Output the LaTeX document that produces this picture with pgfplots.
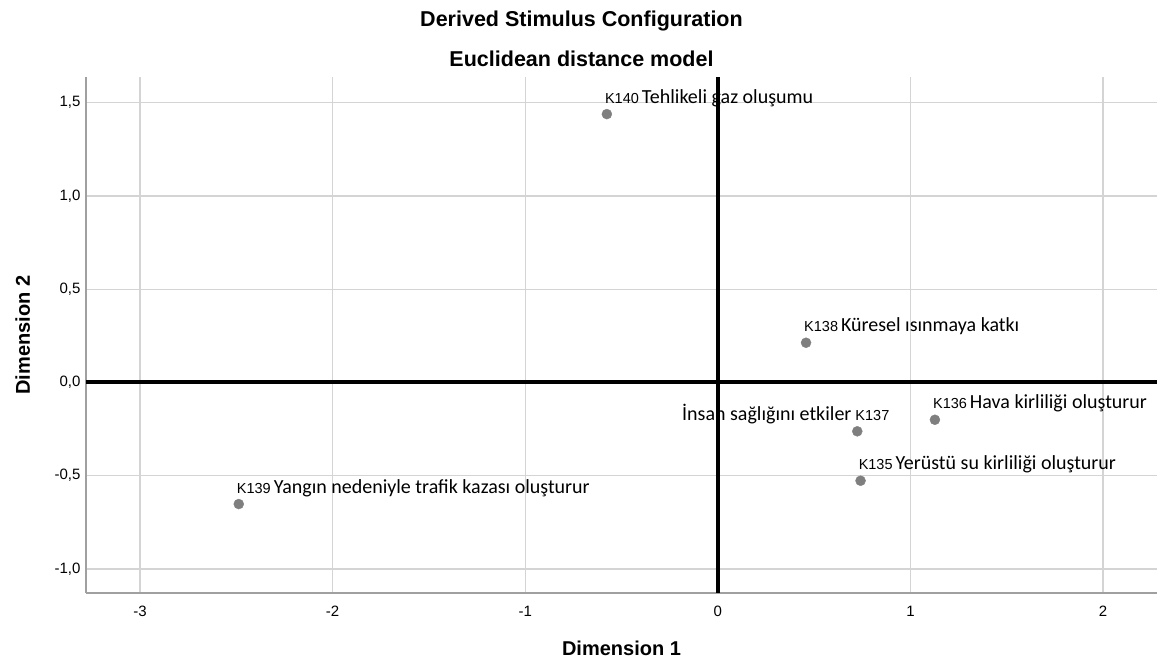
\documentclass[border=0pt]{standalone}
\usepackage{pgfplots}
\pgfplotsset{compat=1.18}
\usepackage{fontspec}
\setmainfont{Liberation Sans}
\newfontfamily\cf{Carlito}
\usetikzlibrary{calc}
\newcommand\kf{\fontsize{14.5}{16}\selectfont}
\newcommand\df{\cf\fontsize{20}{24}\selectfont}
\definecolor{gridc}{HTML}{D4D4D4}
\definecolor{axc}{HTML}{A0A0A0}
\definecolor{dotc}{HTML}{7F7F7F}
\begin{document}
\begin{tikzpicture}
\begin{axis}[name=ax, scale only axis, width=1071pt, height=516pt,
  xmin=-3.28, xmax=2.28, ymin=-1.129, ymax=1.638,
  xtick={-3,-2,-1,0,1,2}, ytick={-1,-0.5,0,0.5,1,1.5},
  axis lines*=left,
  axis line style={-, draw=axc, line width=1.6pt},
  grid=major, major grid style={draw=gridc, line width=1.3pt},
  major tick length=0pt,
  /pgf/number format/assume math mode=true,
  tick label style={font=\fontsize{15}{18}\selectfont},
  y tick label style={xshift=-2pt, /pgf/number format/fixed, /pgf/number format/fixed zerofill, /pgf/number format/precision=1, /pgf/number format/use comma},
  x tick label style={anchor=north, yshift=-9pt, text height=11pt, text depth=0pt},
  xlabel={Dimension 1},
  ylabel={Dimension 2},
  label style={font=\bfseries\fontsize{20}{24}\selectfont},
  xlabel style={at={(axis description cs:0.5,0)}, anchor=base, yshift=-63pt},
  ylabel style={at={($(axis description cs:0,0.5)+(-56pt,0)$)}, anchor=base},
  clip=false,
  every node near coord/.append style={anchor=base west, xshift=-2pt, yshift=11pt, inner sep=0pt, text=black},
]
\draw[black, line width=4pt] (axis cs:-3.28,0) -- (axis cs:2.28,0);
\draw[black, line width=4pt] (axis cs:0,-1.129) -- (axis cs:0,1.638);
\addplot[only marks, mark=*, mark size=5pt, color=dotc, nodes near coords, point meta=explicit symbolic]
coordinates {
 (-0.576,1.439) [{\kf K140}\hspace{3pt}{\df Tehlikeli gaz oluşumu}]
 (0.458,0.213) [{\kf K138}\hspace{3pt}{\df Küresel ısınmaya katkı}]
 (1.127,-0.200) [{\kf K136}\hspace{3pt}{\df Hava kirliliği oluşturur}]
 (0.724,-0.262) [\llap{\df İnsan sağlığını etkiler\hspace{4pt}}{\kf K137}]
 (0.741,-0.527) [{\kf K135}\hspace{3pt}{\df Yerüstü su kirliliği oluşturur}]
 (-2.487,-0.652) [{\kf K139}\hspace{3pt}{\df Yangın nedeniyle trafik kazası oluşturur}]
};
\end{axis}
\node[anchor=base, font=\bfseries\fontsize{21.5}{25}\selectfont] at ($(ax.south west)+(495.5pt,566pt)$) {Derived Stimulus Configuration};
\node[anchor=base, font=\bfseries\fontsize{21.5}{25}\selectfont] at ($(ax.south west)+(495.5pt,526pt)$) {Euclidean distance model};
\pgfresetboundingbox
\path ($(ax.south west)+(-86pt,-71pt)$) rectangle ($(ax.north east)+(6pt,77pt)$);
\end{tikzpicture}
\end{document}
